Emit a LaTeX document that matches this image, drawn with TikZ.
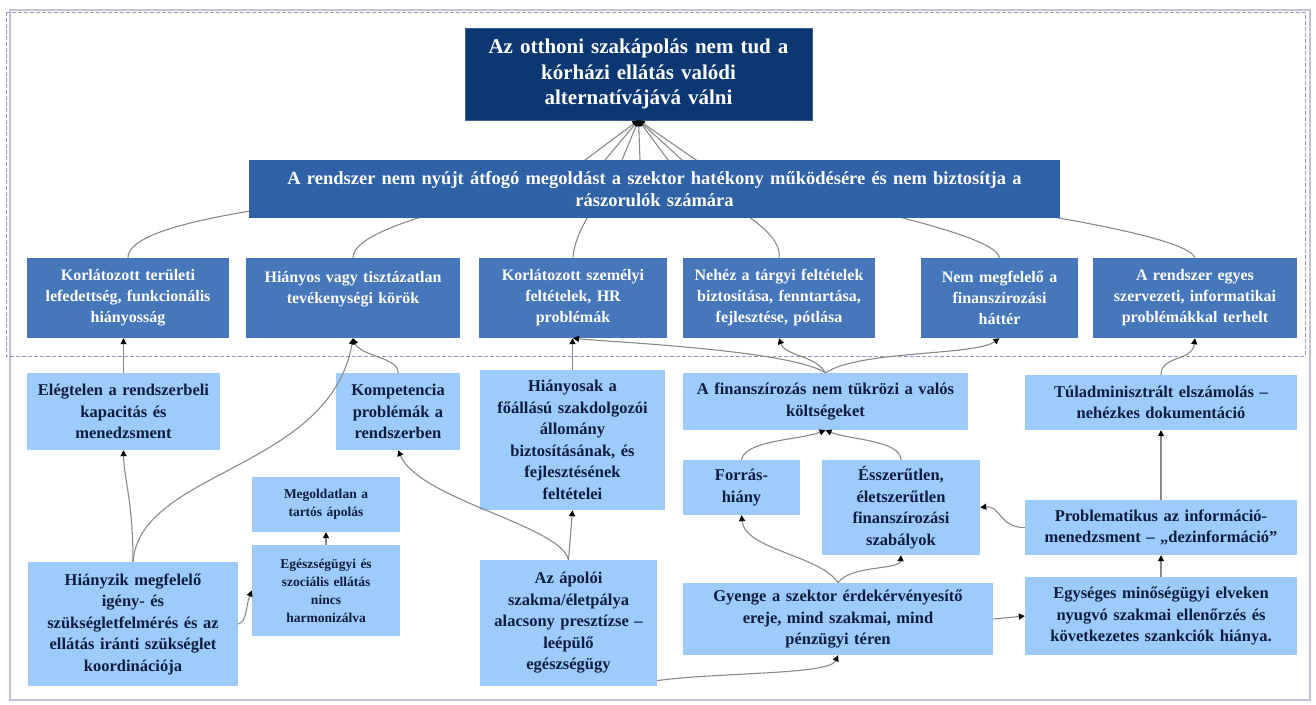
\documentclass[tikz,border=0pt]{standalone}
\usepackage{fontspec}
\setmainfont{Liberation Serif}
\usetikzlibrary{arrows.meta}

\definecolor{navy}{HTML}{0B3772}
\definecolor{midblue}{HTML}{2F62A6}
\definecolor{l2blue}{HTML}{4577BA}
\definecolor{pale}{HTML}{9DCBFB}
\definecolor{inkblue}{HTML}{0E1C40}
\definecolor{wire}{HTML}{8A8A8A}
\definecolor{frameline}{HTML}{9A98B8}

\tikzset{
  box/.style={rectangle, inner sep=0pt, align=center, anchor=center},
  goalbox/.style={box, fill=navy, draw=navy!80!white, text=white,
    font=\fontsize{21}{25.5}\selectfont\bfseries},
  mainbox/.style={box, fill=midblue, text=white,
    font=\fontsize{18.5}{22.5}\selectfont\bfseries},
  causebox/.style={box, fill=l2blue, text=white,
    font=\fontsize{16}{21}\selectfont\bfseries},
  rootbox/.style={box, fill=pale, text=inkblue,
    font=\fontsize{16.5}{21.5}\selectfont\bfseries},
  smallbox/.style={box, fill=pale, text=inkblue,
    font=\fontsize{13.5}{18}\selectfont\bfseries},
  conn/.style={draw=wire, line width=1.1pt,
    -{Triangle[length=6pt,width=6pt,color=black]}},
  sz/.style n args={2}{minimum width=#1pt, minimum height=#2pt, text width=#1pt-2pt}
}

\begin{document}
\begin{tikzpicture}[x=1pt,y=-1pt]
\useasboundingbox[fill=white] (0,0) rectangle (1316,704);

% frames
\draw[frameline!60, line width=1.5pt] (10,10) rectangle (1310,700);
\draw[frameline, line width=1pt, dash pattern=on 4pt off 2pt] (6,12) rectangle (1305,356);

% goal
\node[goalbox, sz={347}{92}] (goal) at (638.5,74) {Az otthoni szakápolás nem tud a\\kórházi ellátás valódi\\alternatívájává válni};

% causes (first level)
\node[causebox, sz={202}{80}] (c1) at (128,298) {Korlátozott területi\\lefedettség, funkcionális\\hiányosság};
\node[causebox, sz={214}{80}] (c2) at (353,298) {Hiányos vagy tisztázatlan\\tevékenységi körök\\\mbox{}};
\node[causebox, sz={188}{80}] (c3) at (573,298) {Korlátozott személyi\\feltételek, HR\\problémák};
\node[causebox, sz={192}{80}] (c4) at (779,298) {Nehéz a tárgyi feltételek\\biztosítása, fenntartása,\\fejlesztése, pótlása};
\node[causebox, sz={157}{80}] (c5) at (999.5,298) {Nem megfelelő a\\finanszírozási\\háttér};
\node[causebox, sz={204}{80}] (c6) at (1195,298) {A rendszer egyes\\szervezeti, informatikai\\problémákkal terhelt};

% links into the goal (they run behind the main problem box)
\draw[conn] (c1.north) .. controls (128,200) and (540,190) .. (585,160) -- (goal.south);
\draw[conn] (c2.north) .. controls (353,215) and (590,185) .. (605,160) -- (goal.south);
\draw[conn] (c3.north) .. controls (575,220) and (622,175) .. (622,160) -- (goal.south);
\draw[conn] (c4.north) .. controls (785,220) and (670,180) .. (668,160) -- (goal.south);
\draw[conn] (c5.north) .. controls (995,225) and (700,180) .. (682,160) -- (goal.south);
\draw[conn] (c6.north) .. controls (1180,220) and (720,175) .. (696,160) -- (goal.south);

\node[mainbox, sz={811}{58}] (main) at (654.5,189) {A rendszer nem nyújt átfogó megoldást a szektor hatékony működésére és nem biztosítja a\\rászorulók számára};
\draw[conn] (640,160) -- (goal.south);

% root causes
\node[rootbox, sz={193}{77}] (elegt) at (123.5,411.5) {Elégtelen a rendszerbeli\\kapacitás és\\menedzsment};
\node[rootbox, sz={124}{77}] (komp) at (398,411.5) {Kompetencia\\problémák a\\rendszerben};
\node[rootbox, sz={185}{140}] (hiany) at (572.5,440) {Hiányosak a\\főállású szakdolgozói\\állomány\\biztosításának, és\\fejlesztésének\\feltételei};
\node[rootbox, sz={285}{57}] (finansz) at (825.5,401.5) {A finanszírozás nem tükrözi a valós\\költségeket};
\node[rootbox, sz={117}{55}] (forras) at (741.5,487.5) {Forrás-\\hiány};
\node[rootbox, sz={158}{95}] (esszer) at (901,507.5) {Ésszerűtlen,\\életszerűtlen\\finanszírozási\\szabályok};
\node[rootbox, sz={272}{55}] (tulad) at (1161,402.5) {Túladminisztrált elszámolás –\\nehézkes dokumentáció};
\node[smallbox, sz={148}{55}] (megold) at (326,504.5) {Megoldatlan a\\tartós ápolás};
\node[smallbox, sz={148}{91}] (egeszs) at (326,590.5) {Egészségügyi és\\szociális ellátás\\nincs\\harmonizálva};
\node[rootbox, sz={210}{124}] (hianyz) at (133,624) {Hiányzik megfelelő\\igény- és\\szükségletfelmérés és az\\ellátás iránti szükséglet\\koordinációja};
\node[rootbox, sz={177}{126}] (apoloi) at (568.5,623) {Az ápolói\\szakma/életpálya\\alacsony presztízse –\\leépülő\\egészségügy};
\node[rootbox, sz={310}{72}] (gyenge) at (838,619) {Gyenge a szektor érdekérvényesítő\\ereje, mind szakmai, mind\\pénzügyi téren};
\node[rootbox, sz={272}{55}] (problem) at (1161,527.5) {Problematikus az információ-\\menedzsment – „dezinformáció”};
\node[rootbox, sz={272}{78}] (egyseg) at (1161,616) {Egységes minőségügyi elveken\\nyugvó szakmai ellenőrzés és\\következetes szankciók hiánya.};

% links between the causes
\draw[conn] (elegt.north) -- (elegt.north |- c1.south);
\draw[conn] (hianyz.north) .. controls (133,500) and (124,480) .. (elegt.south);
\draw[conn] (hianyz.north) .. controls (140,470) and (330,470) .. (c2.south);
\draw[conn] (komp.north) .. controls (400,358) and (360,356) .. (c2.south);
\draw[conn] (hiany.north) -- (hiany.north |- c3.south);
\draw[conn] (finansz.north) .. controls (790,350) and (610,342) .. (c3.south);
\draw[conn] (finansz.north) .. controls (815,355) and (785,356) .. (c4.south);
\draw[conn] (finansz.north) .. controls (860,350) and (975,356) .. (c5.south);
\draw[conn] (forras.north) .. controls (745,440) and (800,440) .. (finansz.south);
\draw[conn] (esszer.north) .. controls (900,440) and (850,440) .. (finansz.south);
\draw[conn] (gyenge.north) .. controls (820,555) and (745,550) .. (forras.south);
\draw[conn] (gyenge.north) .. controls (850,565) and (900,570) .. (esszer.south);
\draw[conn] (apoloi.north) -- (hiany.south);
\draw[conn] (apoloi.north) .. controls (560,525) and (420,500) .. (komp.south);
\draw[conn] (apoloi.-33) .. controls (720,672) and (830,675) .. (gyenge.south);
\draw[conn] (gyenge.east) -- (egyseg.west);
\draw[conn] (egyseg.north) -- (problem.south);
\draw[conn] (problem.west) .. controls (1000,528) and (1000,505) .. (esszer.east);
\draw[conn] (problem.north) -- (tulad.south);
\draw[conn] (tulad.north) .. controls (1161,355) and (1192,362) .. (c6.south);
\draw[conn] (hianyz.east) .. controls (247,622) and (246,605) .. (egeszs.west);
\draw[conn] (egeszs.north) -- (megold.south);
\end{tikzpicture}
\end{document}
